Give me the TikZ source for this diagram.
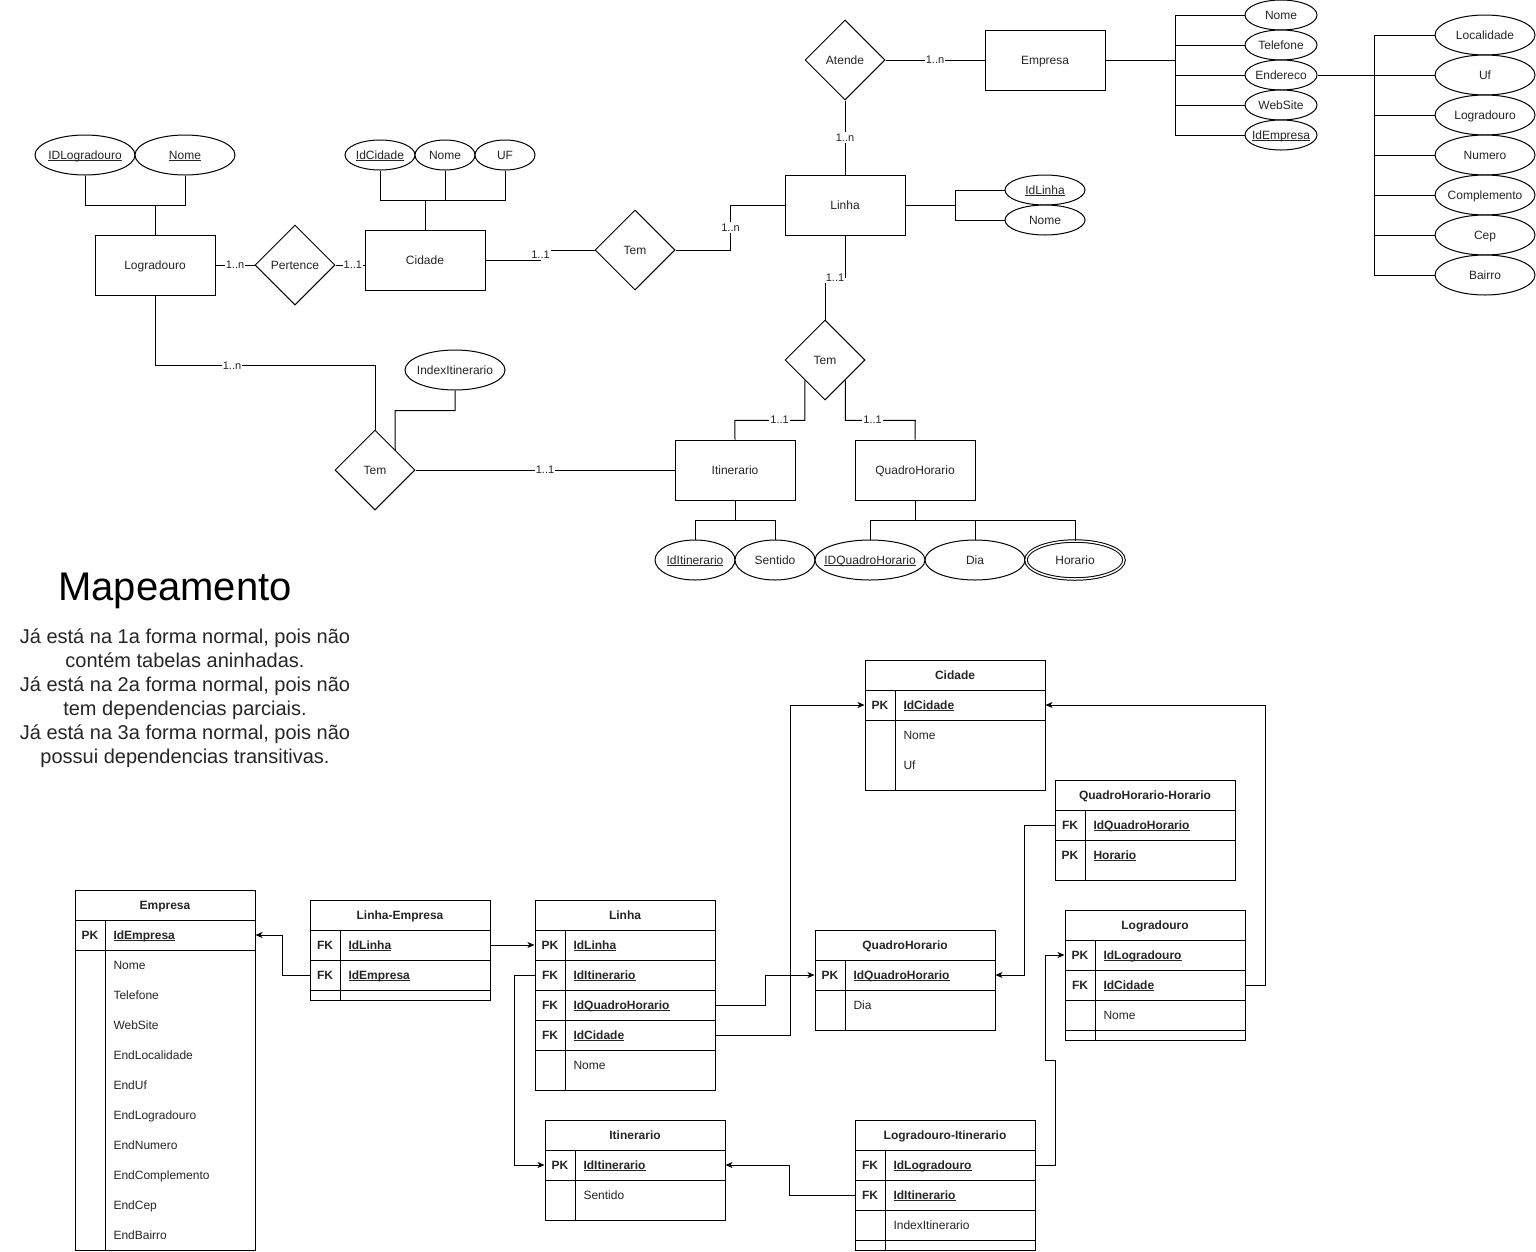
\documentclass[tikz,border=0pt]{standalone}
\usepackage{fontspec}
\setmainfont{Liberation Sans}
\usetikzlibrary{shapes.geometric,arrows.meta,calc}
\definecolor{tx}{HTML}{262626}
\newcommand{\ulx}[1]{\leavevmode\setbox0\hbox{#1}\rlap{\rule[-1.8pt]{\wd0}{0.7pt}}\box0}
\newcommand{\zw}[1]{\makebox[0pt]{#1}}
\tikzset{
  ent/.style={draw, fill=white, rectangle, minimum width=120, minimum height=60, inner sep=0},
  rel/.style={draw, fill=white, diamond, minimum width=80, minimum height=80, inner sep=0},
  attr/.style={draw, fill=white, ellipse, inner sep=0},
  card/.style={fill=white, inner sep=1pt, font=\fontsize{11}{12}\selectfont, text=tx, text height=7.9pt, text depth=0.5pt},
  thd/.style={draw, minimum width=180, minimum height=30, inner sep=0, font=\fontsize{12}{14}\selectfont\bfseries},
  trow/.style={draw, minimum width=180, minimum height=30, inner sep=0},
  keyt/.style={inner sep=0, font=\fontsize{12}{14}\selectfont\bfseries},
  fld/.style={anchor=west, inner sep=0},
  fk/.style={-{Stealth[length=7pt,width=6pt,inset=2pt]}},
}
\newcommand{\krow}[6]{%
  \node[trow] (#1) at (#2,#3) {};
  \node[keyt] (#1k) at (#6+15,#3) {#4};
  \node[fld] (#1f) at (#6+38,#3) {\bfseries\ulx{#5}};
}
\begin{document}
\begin{tikzpicture}[x=1pt,y=-1pt,line width=1pt,
  every node/.append style={font=\fontsize{12}{14}\selectfont, text=tx, text height=8.6pt, text depth=0pt}]
\useasboundingbox (0,0) rectangle (1536,1251);
\fill[white] (0,0) rectangle (1536,1251);

% ================= ER diagram =================
% entities
\node[ent] (Emp) at (1045,60) {Empresa};
\node[ent] (Lin) at (845,205) {Linha};
\node[ent] (Cid) at (425,260) {Cidade};
\node[ent] (Log) at (155,265) {Logradouro};
\node[ent] (Iti) at (735,470) {Itinerario};
\node[ent] (QHo) at (915,470) {QuadroHorario};
% relationships
\node[rel] (Atende) at (845,60) {Atende};
\node[rel] (TemA) at (635,250) {Tem};
\node[rel] (Pert) at (295,265) {Pertence};
\node[rel] (TemB) at (825,360) {Tem};
\node[rel] (TemC) at (375,470) {Tem};

% attributes of Logradouro
\node[attr, minimum width=100, minimum height=40] (aIDLog) at (85,155) {\zw{\ulx{IDLogradouro}}};
\node[attr, minimum width=100, minimum height=40] (aLogNome) at (185,155) {\zw{\ulx{Nome}}};
% attributes of Cidade
\node[attr, minimum width=70, minimum height=30] (aIdCid) at (380,155) {\zw{\ulx{IdCidade}}};
\node[attr, minimum width=60, minimum height=30] (aCidNome) at (445,155) {\zw{Nome}};
\node[attr, minimum width=60, minimum height=30] (aUF) at (505,155) {\zw{UF}};
% attributes of Linha
\node[attr, minimum width=80, minimum height=30] (aIdLinha) at (1045,190) {\zw{\ulx{IdLinha}}};
\node[attr, minimum width=80, minimum height=30] (aLinNome) at (1045,220) {\zw{Nome}};
% attributes of Empresa
\node[attr, minimum width=72, minimum height=30] (aENome) at (1281,15) {\zw{Nome}};
\node[attr, minimum width=72, minimum height=30] (aETel) at (1281,45) {\zw{Telefone}};
\node[attr, minimum width=72, minimum height=30] (aEEnd) at (1281,75) {\zw{Endereco}};
\node[attr, minimum width=72, minimum height=30] (aEWeb) at (1281,105) {\zw{WebSite}};
\node[attr, minimum width=72, minimum height=30] (aEId) at (1281,135) {\zw{\ulx{IdEmpresa}}};
% attributes of Endereco
\node[attr, minimum width=100, minimum height=40] (aLocal) at (1485,35) {\zw{Localidade}};
\node[attr, minimum width=100, minimum height=40] (aUf) at (1485,75) {\zw{Uf}};
\node[attr, minimum width=100, minimum height=40] (aLogr) at (1485,115) {\zw{Logradouro}};
\node[attr, minimum width=100, minimum height=40] (aNum) at (1485,155) {\zw{Numero}};
\node[attr, minimum width=100, minimum height=40] (aCompl) at (1485,195) {\zw{Complemento}};
\node[attr, minimum width=100, minimum height=40] (aCep) at (1485,235) {\zw{Cep}};
\node[attr, minimum width=100, minimum height=40] (aBairro) at (1485,275) {\zw{Bairro}};
% attribute of relation Tem (Logradouro-Itinerario)
\node[attr, minimum width=100, minimum height=40] (aIndex) at (455,370) {\zw{IndexItinerario}};
% attributes of Itinerario / QuadroHorario
\node[attr, minimum width=80, minimum height=40] (aIdIt) at (695,560) {\zw{\ulx{IdItinerario}}};
\node[attr, minimum width=80, minimum height=40] (aSent) at (775,560) {\zw{Sentido}};
\node[attr, minimum width=110, minimum height=40] (aIDQH) at (870,560) {\zw{\ulx{IDQuadroHorario}}};
\node[attr, minimum width=100, minimum height=40] (aDia) at (975,560) {\zw{Dia}};
\node[attr, minimum width=98, minimum height=38, double, double distance=1.5pt] (aHor) at (1075,560) {\zw{Horario}};

% relationship connectors
\draw (Atende.east) -- node[card] {1..n} (Emp.west);
\draw (Atende.south) -- node[card] {1..n} (Lin.north);
\draw (Cid.east) -- ++(55,0) -- node[card] {1..1} ++(0,-10) -- (TemA.west);
\draw (TemA.east) -- ++(55,0) -- node[card] {1..n} ++(0,-45) -- (Lin.west);
\draw (Lin.south) -- ++(0,42) -- node[card] {1..1} ++(-20,0) -- (TemB.north);
\draw ($(TemB.west)!0.5!(TemB.south)$) -- ++(0,40) -- node[card, pos=0.36] {1..1} ++(-70,0) -- (Iti.north);
\draw ($(TemB.east)!0.5!(TemB.south)$) -- ++(0,40) -- node[card, pos=0.39] {1..1} ++(70,0) -- (QHo.north);
\draw (Log.east) -- node[card] {1..n} (Pert.west);
\draw (Pert.east) -- node[card, pos=0.6] {1..1} (Pert.east -| Cid.west);
\draw (Log.south) -- ++(0,70) -- node[card, pos=0.35] {1..n} ++(220,0) -- (TemC.north);
\draw (aIndex.south) -- ++(0,20) -- ++(-60,0) -- ($(TemC.north)!0.5!(TemC.east)$);
\draw (TemC.east) -- node[card] {1..1} (Iti.west);

% attribute connectors
\draw (aIDLog.south) -- ++(0,30) -| (aLogNome.south);
\draw (Log.north) -- ++(0,-30);
\draw (aIdCid.south) -- ++(0,30) -| (aUF.south);
\draw (aCidNome.south) -- ++(0,30);
\draw (Cid.north) -- ++(0,-30);
\draw (Lin.east) -- ++(50,0) coordinate (LT) |- (aIdLinha.west);
\draw (LT) |- (aLinNome.west);
\draw (Emp.east) -- ++(70,0) coordinate (ET);
\foreach \a in {aENome,aETel,aEEnd,aEWeb,aEId} \draw (\a.west) -| (ET);
\draw (aEEnd.east) -- (aUf.west);
\coordinate (ED) at ($(aUf.west)+(-60,0)$);
\foreach \a in {aLocal,aLogr,aNum,aCompl,aCep,aBairro} \draw (\a.west) -| (ED);
\draw (Iti.south) -- ++(0,20) coordinate (IB);
\draw (aIdIt.north) |- (IB);
\draw (aSent.north) |- (IB);
\draw (QHo.south) -- ++(0,20) coordinate (QB);
\draw (aIDQH.north) |- (QB);
\draw (aDia.north) |- (QB);
\draw (aHor.north) |- (QB);

% ================= text =================
\node[font=\fontsize{40}{48}\selectfont, text=black, text height=28.6pt, text depth=0pt] (title) at (175,586) {Mapeamento};
\node[align=center, font=\fontsize{20}{24}\selectfont, text height={}, text depth={}] (body) at (185,698)
 {Já está na 1a forma normal, pois não\\contém tabelas aninhadas.\\Já está na 2a forma normal, pois não\\tem dependencias parciais.\\Já está na 3a forma normal, pois não\\possui dependencias transitivas.};

% ================= tables =================
% Empresa
\node[thd] (Eh) at (165,905) {Empresa};
\krow{Epk}{165}{935}{PK}{IdEmpresa}{75}
\draw (75,950) rectangle (255,1250);
\draw (105,920) -- (105,1250);
\foreach \t [count=\i] in {Nome,Telefone,WebSite,EndLocalidade,EndUf,EndLogradouro,EndNumero,EndComplemento,EndCep,EndBairro}
  \node[fld] (Ef\i) at (113,{935+30*\i}) {\t};

% Linha-Empresa
\node[thd] (LEh) at (400,915) {Linha-Empresa};
\krow{LE1}{400}{945}{FK}{IdLinha}{310}
\krow{LE2}{400}{975}{FK}{IdEmpresa}{310}
\draw (310,990) rectangle (490,1000);
\draw (340,930) -- (340,1000);

% Linha
\node[thd] (Lh) at (625,915) {Linha};
\krow{L1}{625}{945}{PK}{IdLinha}{535}
\krow{L2}{625}{975}{FK}{IdItinerario}{535}
\krow{L3}{625}{1005}{FK}{IdQuadroHorario}{535}
\krow{L4}{625}{1035}{FK}{IdCidade}{535}
\draw (535,1050) rectangle (715,1090);
\node[fld] (Lf1) at (573,1065) {Nome};
\draw (565,930) -- (565,1090);

% Itinerario
\node[thd] (Ih) at (635,1135) {Itinerario};
\krow{I1}{635}{1165}{PK}{IdItinerario}{545}
\draw (545,1180) rectangle (725,1220);
\node[fld] (If1) at (583,1195) {Sentido};
\draw (575,1150) -- (575,1220);

% Cidade
\node[thd] (Ch) at (955,675) {Cidade};
\krow{C1}{955}{705}{PK}{IdCidade}{865}
\draw (865,720) rectangle (1045,790);
\node[fld] (Cf1) at (903,735) {Nome};
\node[fld] (Cf2) at (903,765) {Uf};
\draw (895,690) -- (895,790);

% QuadroHorario-Horario
\node[thd] (QHh) at (1145,795) {QuadroHorario-Horario};
\krow{QH1}{1145}{825}{FK}{IdQuadroHorario}{1055}
\draw (1055,840) rectangle (1235,880);
\node[keyt] (QH2k) at (1070,855) {PK};
\node[fld] (QH2f) at (1093,855) {\bfseries\ulx{Horario}};
\draw (1085,810) -- (1085,880);

% Logradouro
\node[thd] (LGh) at (1155,925) {Logradouro};
\krow{LG1}{1155}{955}{PK}{IdLogradouro}{1065}
\krow{LG2}{1155}{985}{FK}{IdCidade}{1065}
\draw (1065,1000) rectangle (1245,1040);
\draw (1065,1030) -- (1245,1030);
\node[fld] (LGf1) at (1103,1015) {Nome};
\draw (1095,940) -- (1095,1040);

% QuadroHorario
\node[thd] (Qh) at (905,945) {QuadroHorario};
\krow{Q1}{905}{975}{PK}{IdQuadroHorario}{815}
\draw (815,990) rectangle (995,1030);
\node[fld] (Qf1) at (853,1005) {Dia};
\draw (845,960) -- (845,1030);

% Logradouro-Itinerario
\node[thd] (LIh) at (945,1135) {Logradouro-Itinerario};
\krow{LI1}{945}{1165}{FK}{IdLogradouro}{855}
\krow{LI2}{945}{1195}{FK}{IdItinerario}{855}
\draw (855,1210) rectangle (1035,1250);
\draw (855,1240) -- (1035,1240);
\node[fld] (LIf1) at (893,1225) {IndexItinerario};
\draw (885,1150) -- (885,1250);

% foreign key connectors
\draw[fk] (LE2.west) -- ++(-27,0) |- (Epk.east);
\draw[fk] (LE1.east) -- (L1.west);
\draw[fk] (L2.west) -- ++(-20,0) |- (I1.west);
\draw[fk] (L3.east) -- ++(50,0) |- (Q1.west);
\draw[fk] (L4.east) -- ++(75,0) |- (C1.west);
\draw[fk] (QH1.west) -- ++(-30,0) |- (Q1.east);
\draw[fk] (LG2.east) -- ++(20,0) |- (C1.east);
\draw[fk] (LI1.east) -- ++(20,0) -- ++(0,-105) -- ++(-10,0) |- (LG1.west);
\draw[fk] (LI2.west) -- ++(-65,0) |- (I1.east);
\end{tikzpicture}
\end{document}
